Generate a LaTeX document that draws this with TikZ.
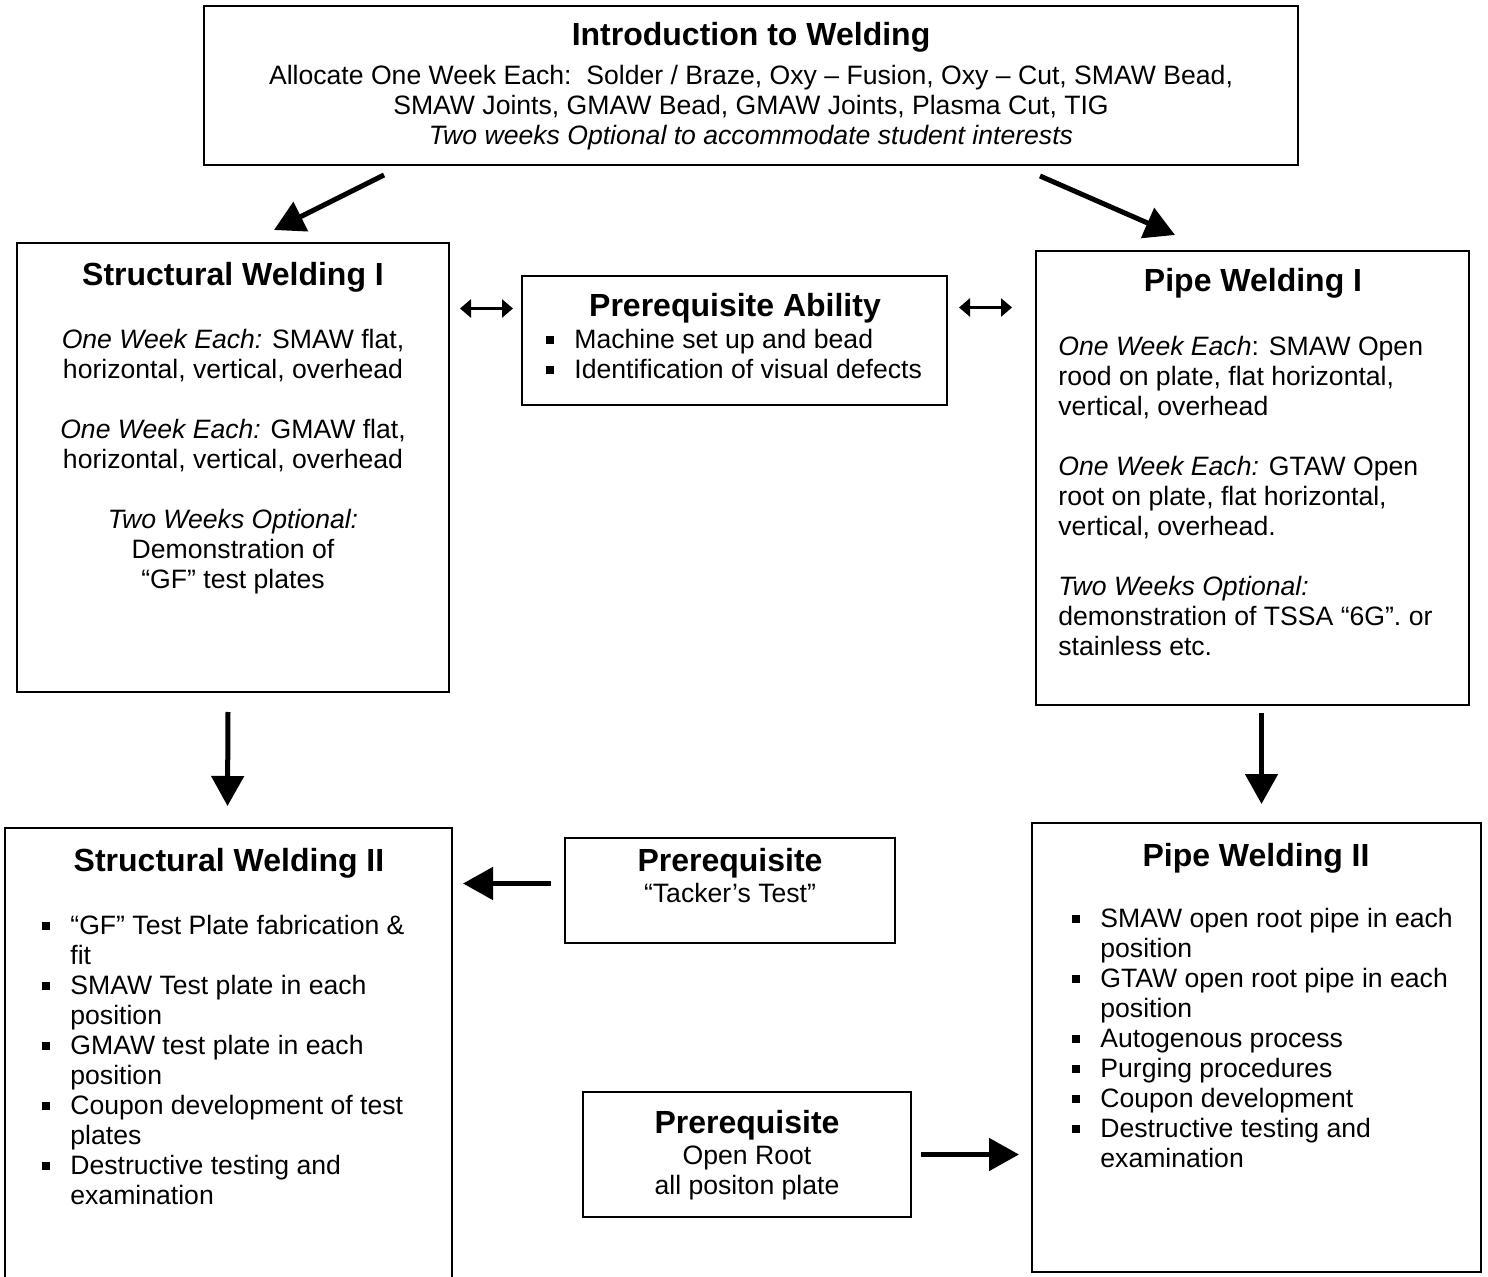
\documentclass[tikz,border=0pt]{standalone}
\usepackage{fontspec}
\setmainfont{Liberation Sans}
\usetikzlibrary{arrows.meta,calc}
\newcommand{\bul}{\makebox[14pt][l]{\rule[2.3pt]{3.8pt}{3.8pt}}}
\newcommand{\ind}{\hspace*{14pt}}
\tikzset{
  box/.style={draw, line width=1pt, rectangle, inner sep=0pt},
  ttl/.style={anchor=base, inner sep=0pt, font=\fontsize{16}{18}\selectfont\bfseries},
  txt/.style={inner sep=0pt, font=\fontsize{13.3}{15}\selectfont},
  bigarrow/.style={line width=2.5pt, -{Triangle[length=15pt,width=16pt]}},
  dblarrow/.style={line width=1.4pt, {Triangle[length=5.5pt,width=9pt]}-{Triangle[length=5.5pt,width=9pt]}}
}
\begin{document}
\begin{tikzpicture}[x=0.5pt, y=-0.5pt, line join=miter]
\useasboundingbox (0,0) rectangle (1488,1277);
% boxes
\node[box, minimum width=547pt, minimum height=79.5pt] (intro) at (751,85.5) {};
\node[box, minimum width=216pt, minimum height=224.5pt] (sw1) at (233,467.5) {};
\node[box, minimum width=212.5pt, minimum height=64.5pt] (pa) at (734.5,340.5) {};
\node[box, minimum width=216.5pt, minimum height=227pt] (pw1) at (1252.5,478) {};
\node[box, minimum width=223.5pt, minimum height=236pt] (sw2) at (228.5,1064) {};
\node[box, minimum width=165pt, minimum height=52.5pt] (tack) at (730,890.5) {};
\node[box, minimum width=164pt, minimum height=62.5pt] (root) at (747,1154.5) {};
\node[box, minimum width=224.5pt, minimum height=224.5pt] (pw2) at (1256.5,1047.5) {};
% texts
\node[ttl] (introt) at (751,46) {Introduction to Welding};
\node[txt, anchor=north, align=center] (introb) at (751,63) {\strut Allocate One Week Each:\ \ Solder / Braze, Oxy – Fusion, Oxy – Cut, SMAW Bead,\\
  SMAW Joints, GMAW Bead, GMAW Joints, Plasma Cut, TIG\\
  {\itshape Two weeks Optional to accommodate student interests}};
\node[ttl] (sw1t) at (233,286) {Structural Welding I};
\node[txt, anchor=north, align=center] (sw1b) at (233,327) {\strut{\itshape One Week Each:} SMAW flat,\\
  horizontal, vertical, overhead\\[15pt]
  {\itshape One Week Each:} GMAW flat,\\
  horizontal, vertical, overhead\\[15pt]
  {\itshape Two Weeks Optional:}\\
  Demonstration of\\
  “GF” test plates};
\node[ttl] (pat) at (735,317) {Prerequisite Ability};
\node[txt, anchor=north west, align=left] (pab) at (546,327) {\strut\bul Machine set up and bead\\
  \bul Identification of visual defects};
\node[ttl] (pw1t) at (1253,292) {Pipe Welding I};
\node[txt, anchor=north west, align=left] (pw1b) at (1058,334) {\strut{\itshape One Week Each}: SMAW Open\\
  rood on plate, flat horizontal,\\
  vertical, overhead\\[15pt]
  {\itshape One Week Each:} GTAW Open\\
  root on plate, flat horizontal,\\
  vertical, overhead.\\[15pt]
  {\itshape Two Weeks Optional:}\\
  demonstration of TSSA “6G”. or\\
  stainless etc.};
\node[ttl] (sw2t) at (229,871) {Structural Welding II};
\node[txt, anchor=north west, align=left] (sw2b) at (42,913) {\strut\bul “GF” Test Plate fabrication \&\\
  \ind fit\\
  \bul SMAW Test plate in each\\
  \ind position\\
  \bul GMAW test plate in each\\
  \ind position\\
  \bul Coupon development of test\\
  \ind plates\\
  \bul Destructive testing and\\
  \ind examination};
\node[ttl] (tackt) at (730,871) {Prerequisite};
\node[txt, anchor=north, align=center] (tackb) at (730,881) {\strut “Tacker’s Test”};
\node[ttl] (roott) at (747,1133) {Prerequisite};
\node[txt, anchor=north, align=center] (rootb) at (747,1143) {\strut Open Root\\ all positon plate};
\node[ttl] (pw2t) at (1256,866) {Pipe Welding II};
\node[txt, anchor=north west, align=left] (pw2b) at (1072,906) {\strut\bul SMAW open root pipe in each\\
  \ind position\\
  \bul GTAW open root pipe in each\\
  \ind position\\
  \bul Autogenous process\\
  \bul Purging procedures\\
  \bul Coupon development\\
  \bul Destructive testing and\\
  \ind examination};
% arrows
\draw[bigarrow] ($(intro.south west)+(181,9)$) -- ($(sw1.north west)+(258,-12)$);
\draw[bigarrow] ($(intro.south west)+(837,10)$) -- ($(pw1.north west)+(140,-15)$);
\draw[dblarrow] ($(sw1.east |- pa.west)+(10,-32)$) -- ($(pa.west)+(-8,-32)$);
\draw[dblarrow] ($(pa.east)+(11,-33)$) -- ($(pw1.west |- pa.east)+(-23,-33)$);
\draw[bigarrow] ($(sw1.south)+(-5,19)$) -- ($(sw2.north)+(-1,-21)$);
\draw[bigarrow] ($(pw1.south)+(9,7)$) -- ($(pw2.north)+(5,-18)$);
\draw[bigarrow] ($(tack.west)+(-13,-7)$) -- ($(sw2.east |- tack.west)+(10,-7)$);
\draw[bigarrow] ($(root.east)+(9,0)$) -- ($(pw2.west |- root.east)+(-12,0)$);
\end{tikzpicture}
\end{document}
